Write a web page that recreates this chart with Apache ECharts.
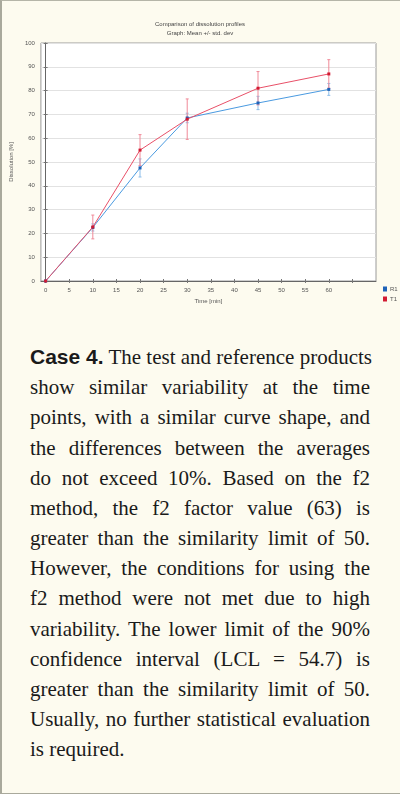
<!DOCTYPE html>
<html>
<head>
<meta charset="utf-8">
<script src="https://cdn.jsdelivr.net/npm/echarts@6/dist/echarts.min.js"></script>
<style>
  html, body { margin: 0; padding: 0; }
  body { width: 400px; height: 794px; background: #fdfbef; position: relative; overflow: hidden; }
  #chart { position: absolute; left: 0; top: 0; width: 400px; height: 320px; }
  .frame { position: absolute; left: 0; top: 0; width: 398px; height: 792px;
    border-left: 2px solid #a9a99c; border-top: 1px solid #b5b5a8; border-bottom: 2px solid #a9a99c; pointer-events: none; }
  .text { position: absolute; left: 30px; top: 342px; width: 340px;
    font-family: "Liberation Serif", serif; font-size: 21px; line-height: 30.17px; color: #1a1a1a; }
  .text div { text-align: justify; text-align-last: justify; white-space: nowrap; }
  .text div.last { text-align-last: left; }
  .text b { font-family: "Liberation Sans", Arial, sans-serif; font-weight: bold; }
</style>
</head>
<body>
<div id="chart"></div>
<div class="text">
  <div><b>Case 4.</b> The test and reference products</div>
  <div>show similar variability at the time</div>
  <div>points, with a similar curve shape, and</div>
  <div>the differences between the averages</div>
  <div>do not exceed 10%. Based on the f2</div>
  <div>method, the f2 factor value (63) is</div>
  <div>greater than the similarity limit of 50.</div>
  <div>However, the conditions for using the</div>
  <div>f2 method were not met due to high</div>
  <div>variability. The lower limit of the 90%</div>
  <div>confidence interval (LCL = 54.7) is</div>
  <div>greater than the similarity limit of 50.</div>
  <div>Usually, no further statistical evaluation</div>
  <div class="last">is required.</div>
</div>
<div class="frame"></div>
<script>
// time points (min)
const times = [0, 10, 20, 30, 45, 60];
// R1 (reference) mean and std. dev
const r1Mean = [0, 22.5, 47.5, 68.5, 74.8, 80.5];
const r1Sd = [0, 1.5, 3.8, 2.0, 2.8, 2.5];
// T1 (test) mean and std. dev
const t1Mean = [0, 22.7, 55, 68, 81, 87];
const t1Sd = [0, 5, 6.5, 8.5, 7, 6];
// tick labels
const xTicks = [0, 5, 10, 15, 20, 25, 30, 35, 40, 45, 50, 55, 60, 65];
const xLabels = [0, 5, 10, 15, 20, 25, 30, 35, 40, 45, 50, 55, 60];

const chart = echarts.init(document.getElementById('chart'));

const pairs = (xs, ys) => xs.map((x, i) => [x, ys[i]]);
const triples = (xs, ys, sd) => xs.map((x, i) => [x, ys[i], sd[i]]);

// error bar with small caps
const errBar = (color) => (params, api) => {
  const x = api.value(0), m = api.value(1), s = api.value(2);
  if (!s) return;
  const hi = api.coord([x, m + s]);
  const lo = api.coord([x, m - s]);
  const st = { stroke: color, lineWidth: 1 };
  return {
    type: 'group',
    children: [
      { type: 'line', shape: { x1: hi[0], y1: hi[1], x2: lo[0], y2: lo[1] }, style: st },
      { type: 'line', shape: { x1: hi[0] - 1.5, y1: hi[1], x2: hi[0] + 1.5, y2: hi[1] }, style: st },
      { type: 'line', shape: { x1: lo[0] - 1.5, y1: lo[1], x2: lo[0] + 1.5, y2: lo[1] }, style: st }
    ]
  };
};

const labelStyle = { fontSize: 6, color: '#555', fontFamily: 'Liberation Sans' };

chart.setOption({
  backgroundColor: '#fdfbef',
  animation: false,
  title: {
    text: 'Comparison of dissolution profiles',
    subtext: 'Graph: Mean +/- std. dev',
    left: 'center',
    top: 16,
    itemGap: 3,
    textStyle: { fontSize: 6, fontWeight: 'normal', color: '#444', fontFamily: 'Liberation Sans' },
    subtextStyle: { fontSize: 6, color: '#444', fontFamily: 'Liberation Sans' }
  },
  legend: {
    orient: 'vertical',
    left: 378,
    top: 281,
    itemWidth: 4,
    itemHeight: 5,
    itemGap: 4,
    textStyle: { fontSize: 6, color: '#555', padding: [0, 0, 0, -2] },
    data: [
      { name: 'R1', icon: 'rect' },
      { name: 'T1', icon: 'rect' }
    ]
  },
  grid: {
    left: 33, top: 43, width: 343, height: 238,
    show: true, backgroundColor: '#ffffff', borderColor: '#9a9a9a', borderWidth: 1
  },
  xAxis: [
    {
      type: 'value', min: -1, max: 70,
      name: 'Time [min]', nameLocation: 'middle', nameGap: 16,
      nameTextStyle: labelStyle,
      axisLine: { onZero: false, lineStyle: { color: '#666' } },
      axisTick: { inside: true, length: 2, customValues: xTicks, lineStyle: { color: '#777' } },
      axisLabel: { customValues: xLabels, margin: 6, ...labelStyle },
      splitLine: { show: false }
    },
    {
      type: 'value', min: -1, max: 70, position: 'top',
      axisLine: { show: false },
      axisTick: { inside: true, length: 2, customValues: xTicks, lineStyle: { color: '#777' } },
      axisLabel: { show: false },
      splitLine: { show: false }
    }
  ],
  yAxis: [
    {
      type: 'value', min: 0, max: 100, interval: 10,
      name: 'Dissolution [%]', nameLocation: 'middle', nameGap: 23,
      nameTextStyle: labelStyle,
      axisLine: { show: true, lineStyle: { color: '#666' } },
      axisTick: { show: true, inside: true, length: 2, lineStyle: { color: '#777' } },
      axisLabel: { margin: 6, ...labelStyle },
      splitLine: { lineStyle: { color: '#e2e2e2', width: 1 } }
    },
    {
      type: 'value', min: 0, max: 100, interval: 10, position: 'right',
      axisLine: { show: false },
      axisTick: { show: true, inside: true, length: 2, lineStyle: { color: '#777' } },
      axisLabel: { show: false },
      splitLine: { show: false }
    }
  ],
  series: [
    {
      name: 'R1-err', type: 'custom', silent: true, z: 2,
      renderItem: errBar('#8cbde9'),
      encode: { x: 0, y: 1 },
      data: triples(times, r1Mean, r1Sd)
    },
    {
      name: 'T1-err', type: 'custom', silent: true, z: 2,
      renderItem: errBar('#f08a98'),
      encode: { x: 0, y: 1 },
      data: triples(times, t1Mean, t1Sd)
    },
    {
      name: 'R1', type: 'line', z: 3,
      data: pairs(times, r1Mean),
      symbol: 'rect', symbolSize: 3,
      lineStyle: { color: '#4a9ae0', width: 1 },
      itemStyle: { color: '#1f63b8' }
    },
    {
      name: 'T1', type: 'line', z: 4,
      data: pairs(times, t1Mean),
      symbol: 'rect', symbolSize: 3,
      lineStyle: { color: '#e85068', width: 1 },
      itemStyle: { color: '#d21a32' }
    }
  ]
});
</script>
</body>
</html>
